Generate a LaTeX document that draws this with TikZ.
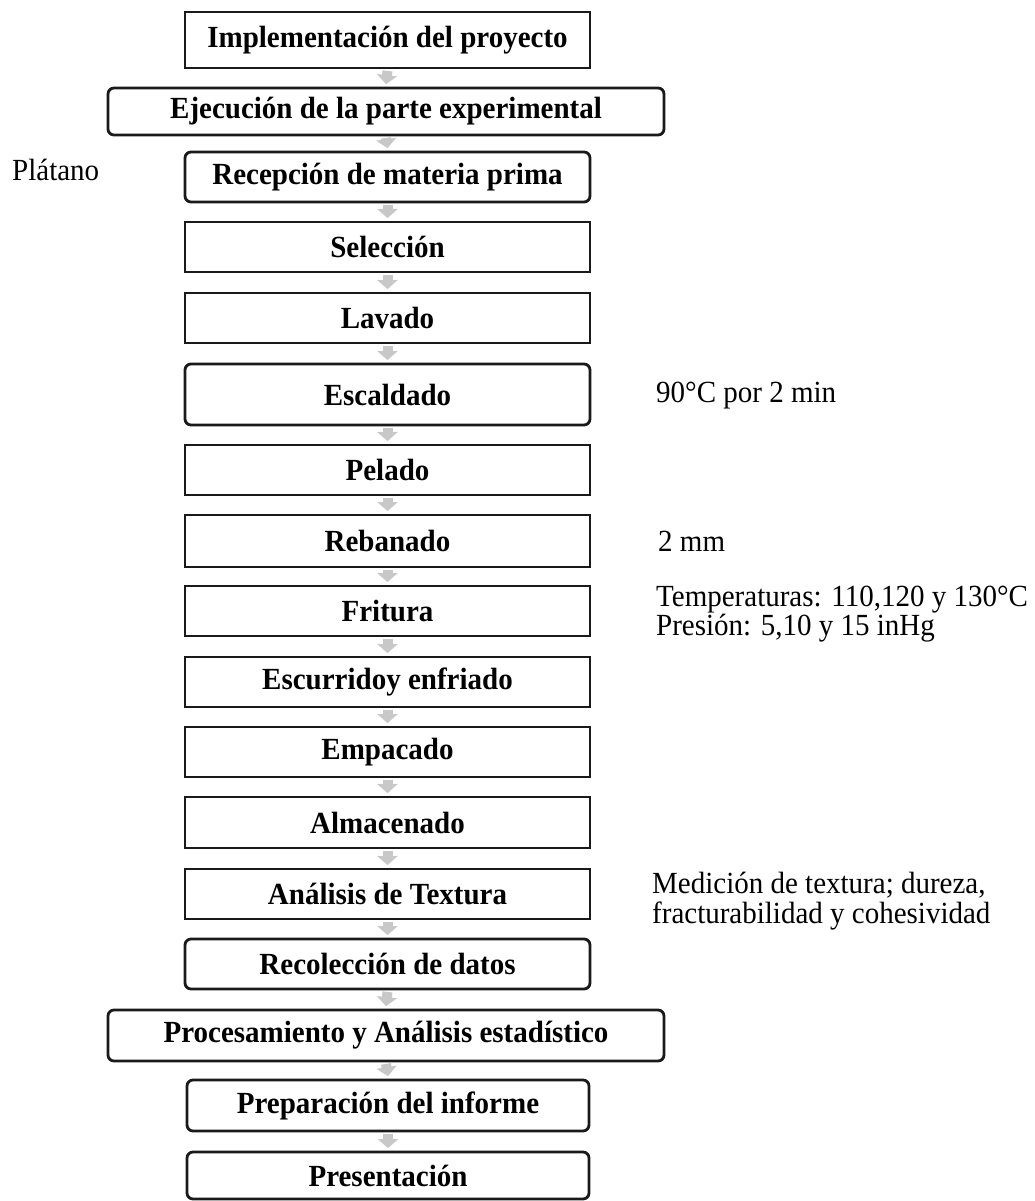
\documentclass[tikz,border=0pt]{standalone}
\usepackage{fontspec}
\usepackage{graphicx}
\setmainfont{Liberation Serif}
\usetikzlibrary{arrows.meta}
\definecolor{boxline}{HTML}{1A1A1A}
\definecolor{arrowgray}{HTML}{C8C8C8}
\newcommand{\vst}[1]{\scalebox{1}[1.06]{#1}}
\tikzset{
  stepbox/.style={draw=boxline, line width=2.8pt, inner sep=0pt, text=black,
    font=\fontsize{29}{31}\selectfont\bfseries},
  sqbox/.style={stepbox},
  rdbox/.style={stepbox, rounded corners=6pt},
  flowarrow/.style={draw=arrowgray, line width=10pt, -{Triangle[width=20pt,length=9pt]}},
  note/.style={font=\fontsize{29}{30}\selectfont, anchor=base west, inner sep=0pt, text=black},
}
\begin{document}
\begin{tikzpicture}[x=1pt, y=-1pt]
\useasboundingbox (0,0) rectangle (1035,1201);
% boxes
\node[sqbox, minimum width=405pt, minimum height=56pt] (b1) at (387.5,40) {\vst{Implementación del proyecto}};
\node[rdbox, minimum width=556pt, minimum height=47pt] (b2) at (386,111.5) {\vst{Ejecución de la parte experimental}};
\node[rdbox, minimum width=405pt, minimum height=50pt] (b3) at (387.5,177) {\vst{Recepción de materia prima}};
\node[sqbox, minimum width=405pt, minimum height=50pt] (b4) at (387.5,247) {\vst{Selección}};
\node[sqbox, minimum width=405pt, minimum height=50pt] (b5) at (387.5,318) {\vst{Lavado}};
\node[rdbox, minimum width=405pt, minimum height=61pt] (b6) at (387.5,394.5) {\vst{Escaldado}};
\node[sqbox, minimum width=405pt, minimum height=50pt] (b7) at (387.5,470) {\vst{Pelado}};
\node[sqbox, minimum width=405pt, minimum height=52pt] (b8) at (387.5,541) {\vst{Rebanado}};
\node[sqbox, minimum width=405pt, minimum height=50pt] (b9) at (387.5,611) {\vst{Fritura}};
\node[sqbox, minimum width=405pt, minimum height=50pt] (b10) at (387.5,682) {\vst{Escurridoy enfriado}};
\node[sqbox, minimum width=405pt, minimum height=50pt] (b11) at (387.5,752) {\vst{Empacado}};
\node[sqbox, minimum width=405pt, minimum height=51pt] (b12) at (387.5,822.5) {\vst{Almacenado}};
\node[sqbox, minimum width=405pt, minimum height=50pt] (b13) at (387.5,894) {\vst{Análisis de Textura}};
\node[rdbox, minimum width=405pt, minimum height=50pt] (b14) at (387.5,964) {\vst{Recolección de datos}};
\node[rdbox, minimum width=556pt, minimum height=51pt] (b15) at (386,1035.5) {\vst{Procesamiento y Análisis estadístico}};
\node[rdbox, minimum width=402pt, minimum height=51pt] (b16) at (388,1105.5) {\vst{Preparación del informe}};
\node[rdbox, minimum width=402pt, minimum height=47pt] (b17) at (388,1175.5) {\vst{Presentación}};
% arrows
\foreach \a/\b in {b1/b2,b2/b3,b3/b4,b4/b5,b5/b6,b6/b7,b7/b8,b8/b9,b9/b10,b10/b11,b11/b12,b12/b13,b13/b14,b14/b15,b15/b16,b16/b17}
  \draw[flowarrow] ([yshift=-1.5pt]\a.south) -- ([yshift=2.5pt]\b.north);
% side notes
\node[note] (n1) at (12,181) {\vst{Plátano}};
\node[note] (n2) at (656,402) {\vst{90°C por 2 min}};
\node[note] (n3) at (658,551) {\vst{2 mm}};
\begin{scope}
  \clip (640,560) rectangle (1035,642);
  \node[note] (n4) at (656,606) {\vst{Temperaturas: 110,120 y 130°C}};
  \node[note] (n5) at (656,635) {\vst{Presión: 5,10 y 15 inHg}};
\end{scope}
\node[note] (n6) at (652,893) {\vst{Medición de textura; dureza,}};
\node[note] (n7) at (652,923) {\vst{fracturabilidad y cohesividad}};
\end{tikzpicture}
\end{document}
